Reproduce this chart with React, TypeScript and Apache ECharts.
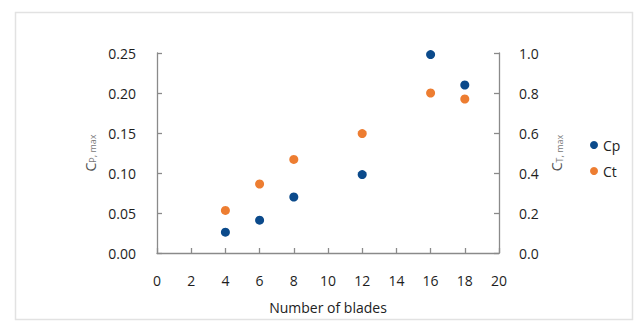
import React, { useEffect, useRef } from "react";
import * as echarts from "echarts";

const blades = [4, 6, 8, 12, 16, 18];
const cpValues = [0.026, 0.041, 0.07, 0.098, 0.248, 0.21];
const ctValues = [0.213, 0.345, 0.468, 0.597, 0.8, 0.77];
const seriesNames = ["Cp", "Ct"];

const FONT = "Open Sans";

export default function App() {
  const ref = useRef<HTMLDivElement>(null);
  useEffect(() => {
    if (!ref.current) return;
    const chart = echarts.init(ref.current, null, { renderer: "svg" });
    const axisLine = { show: true, lineStyle: { color: "#8a8a8a", width: 1.3 } };
    const axisTick = { show: true, inside: true, length: 5, lineStyle: { color: "#8a8a8a", width: 1.3 } };
    const label = { color: "#1e1e1e", fontSize: 14, fontFamily: FONT };
    const titleRich = {
      c: { fontSize: 14, color: "#555", fontFamily: FONT },
      s: { fontSize: 9, color: "#777", fontFamily: FONT, verticalAlign: "bottom", padding: [4, 0, 0, 0] },
    };
    chart.setOption({
      animation: false,
      backgroundColor: "#fff",
      textStyle: { fontFamily: FONT },
      graphic: [
        {
          type: "rect",
          shape: { x: 15.5, y: 12.5, width: 617, height: 307 },
          style: { fill: "none", stroke: "#e2e2e2", lineWidth: 1.5 },
          silent: true,
        },
      ],
      grid: { left: 157, right: 139, top: 53, bottom: 69 },
      legend: {
        orient: "vertical",
        left: 585,
        top: 133,
        icon: "circle",
        itemWidth: 8,
        itemHeight: 8,
        itemGap: 12,
        data: seriesNames,
        textStyle: { fontSize: 14, color: "#222", fontFamily: FONT },
      },
      xAxis: {
        type: "value",
        min: 0,
        max: 20,
        interval: 2,
        axisLine,
        axisTick,
        splitLine: { show: false },
        axisLabel: { ...label, margin: 20 },
        name: "Number of blades",
        nameLocation: "middle",
        nameGap: 47,
        nameTextStyle: { fontSize: 14, color: "#222", fontFamily: FONT },
      },
      yAxis: [
        {
          type: "value",
          min: 0,
          max: 0.25,
          interval: 0.05,
          position: "left",
          axisLine,
          axisTick,
          splitLine: { show: false },
          axisLabel: { ...label, margin: 21, formatter: (v: number) => v.toFixed(2) },
          name: "{c|C}{s|P, max}",
          nameLocation: "middle",
          nameGap: 50,
          nameTextStyle: { rich: titleRich },
        },
        {
          type: "value",
          min: 0,
          max: 1,
          interval: 0.2,
          position: "right",
          axisLine,
          axisTick,
          splitLine: { show: false },
          axisLabel: { ...label, margin: 20, formatter: (v: number) => v.toFixed(1) },
          name: "{c|C}{s|T, max}",
          nameLocation: "middle",
          nameGap: 42,
          nameTextStyle: { rich: titleRich },
        },
      ],
      series: [
        {
          name: seriesNames[0],
          type: "scatter",
          yAxisIndex: 0,
          symbolSize: 9,
          itemStyle: { color: "#0b4a8b", opacity: 1 },
          data: blades.map((b, i) => [b, cpValues[i]]),
        },
        {
          name: seriesNames[1],
          type: "scatter",
          yAxisIndex: 1,
          symbolSize: 9,
          itemStyle: { color: "#ed7d31", opacity: 1 },
          data: blades.map((b, i) => [b, ctValues[i]]),
        },
      ],
    });
    return () => chart.dispose();
  }, []);
  return (
    <div
      ref={ref}
      style={{ position: "fixed", left: 0, top: 0, width: 638, height: 322 }}
    />
  );
}
